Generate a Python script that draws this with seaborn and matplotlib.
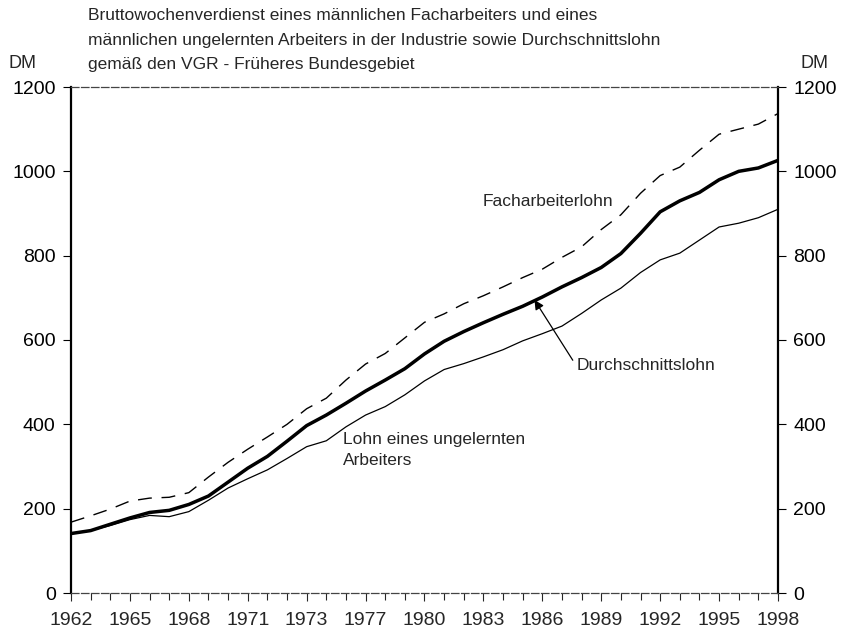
import matplotlib
matplotlib.use("Agg")
import matplotlib.pyplot as plt
import seaborn as sns
import pandas as pd
import numpy as np

years = list(range(1962, 1999))
facharbeiter = [168, 183, 199, 218, 225, 227, 238, 275, 310, 341, 370, 400, 437, 462,
                 505, 543, 568, 605, 642, 662, 686, 705, 726, 748, 768, 796, 821, 862,
                 897, 948, 990, 1010, 1050, 1088, 1100, 1112, 1137]
durchschnitt = [141, 148, 163, 178, 191, 196, 210, 230, 263, 296, 324, 360, 397, 422,
                450, 479, 505, 532, 567, 597, 620, 641, 661, 680, 702, 726, 748, 772,
                805, 853, 904, 930, 950, 980, 1000, 1008, 1026]
ungelernt = [140, 148, 160, 174, 184, 181, 193, 220, 249, 271, 292, 319, 347, 361,
             394, 422, 442, 470, 503, 530, 544, 560, 577, 598, 615, 633, 663, 695,
             723, 760, 790, 806, 837, 868, 877, 890, 910]

xtick_pos = [1962, 1965, 1968, 1971, 1974, 1977, 1980, 1983, 1986, 1989, 1992, 1995, 1998]
xtick_labels = ["1962", "1965", "1968", "1971", "1973", "1977", "1980", "1983", "1986",
                "1989", "1992", "1995", "1998"]
ytick_vals = [0, 200, 400, 600, 800, 1000, 1200]

title_lines = ["Bruttowochenverdienst eines männlichen Facharbeiters und eines",
               "männlichen ungelernten Arbeiters in der Industrie sowie Durchschnittslohn",
               "gemäß den VGR - Früheres Bundesgebiet"]

sns.set_style("white")
plt.rcParams['font.family'] = ['Liberation Sans', 'DejaVu Sans']

df = pd.DataFrame({
    "Jahr": years * 3,
    "DM": facharbeiter + durchschnitt + ungelernt,
    "Reihe": ["Facharbeiterlohn"] * len(years) + ["Durchschnittslohn"] * len(years)
             + ["Ungelernt"] * len(years),
})

fig = plt.figure(figsize=(8.52, 6.36), dpi=100)
ax = fig.add_axes([71 / 852, 1 - 593 / 636, (778 - 71) / 852, (593 - 87) / 636])

sns.lineplot(data=df[df.Reihe == "Ungelernt"], x="Jahr", y="DM", ax=ax,
             color="black", lw=0.9, legend=False)
sns.lineplot(data=df[df.Reihe == "Durchschnittslohn"], x="Jahr", y="DM", ax=ax,
             color="black", lw=2.5, legend=False)
sns.lineplot(data=df[df.Reihe == "Facharbeiterlohn"], x="Jahr", y="DM", ax=ax,
             color="black", lw=1.0, legend=False, dashes=False)
ax.lines[-1].set_dashes((10, 7))

ax.set_xlim(1962, 1998)
ax.set_ylim(0, 1200)
ax.set_xlabel("")
ax.set_ylabel("")
ax.set_xticks(xtick_pos)
ax.set_xticklabels(xtick_labels)
ax.set_xticks(years, minor=True)
ax.set_yticks(ytick_vals)
ax.set_yticklabels([str(v) for v in ytick_vals])

ax.tick_params(axis="y", which="both", left=True, right=True, labelleft=True,
               labelright=True, direction="out", length=6, width=0.8,
               labelsize=14, pad=5, colors="black")
ax.tick_params(axis="x", which="major", bottom=True, direction="out", length=6,
               width=0.8, labelsize=14, pad=8)
ax.tick_params(axis="x", which="minor", bottom=True, direction="out", length=5,
               width=0.8)

for side in ["left", "right"]:
    ax.spines[side].set_linewidth(1.6)
    ax.spines[side].set_color("black")
for side in ["top", "bottom"]:
    ax.spines[side].set_linewidth(0.9)
    ax.spines[side].set_color("#444444")
    ax.spines[side].set_linestyle((0, (6, 2)))

for i, (line, ypix) in enumerate(zip(title_lines, [15, 40, 64])):
    fig.text(88 / 852, 1 - ypix / 636, line, ha="left", va="center", fontsize=12.5)
fig.text(22 / 852, 1 - 64 / 636, "DM", ha="center", va="center", fontsize=13)
fig.text(814 / 852, 1 - 64 / 636, "DM", ha="center", va="center", fontsize=13)

ax.text(1962 + (483 - 71) / 19.64, 928, "Facharbeiterlohn", ha="left",
        va="center", fontsize=12.5)
ax.text(1962 + (577 - 71) / 19.64, 540, "Durchschnittslohn", ha="left",
        va="center", fontsize=12.5)
ax.text(1962 + (343 - 71) / 19.64, 338, "Lohn eines ungelernten\nArbeiters",
        ha="left", va="center", fontsize=12.5, linespacing=1.5)
ax.annotate("", xy=(1985.6, 695), xytext=(1987.55, 552),
            arrowprops=dict(arrowstyle="-|>", color="black", lw=0.9,
                            mutation_scale=14, shrinkA=0, shrinkB=0))

fig.savefig("out.png", dpi=100)
